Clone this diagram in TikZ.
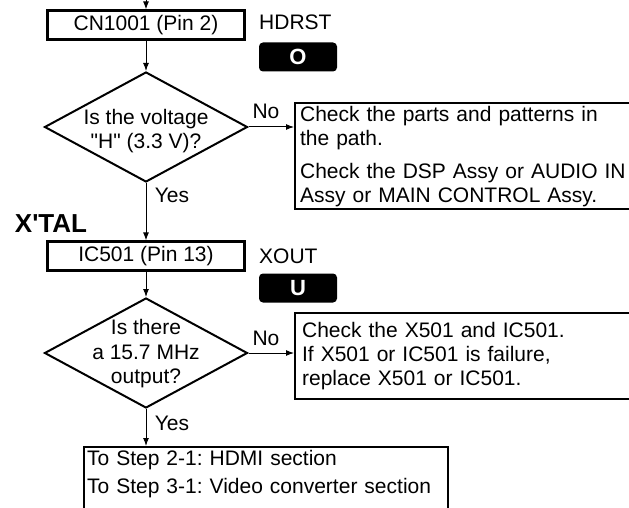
\documentclass[tikz,border=0pt]{standalone}
\usepackage{fontspec}
\setmainfont{Liberation Sans}[Ligatures=TeXOff]
\usetikzlibrary{shapes.geometric,arrows.meta}
\frenchspacing

\begin{document}
\begin{tikzpicture}[x=1pt,y=-1pt,
    font=\fontsize{21}{24}\selectfont,
    box/.style={draw,line width=2.2pt,minimum width=197pt,minimum height=29pt,inner sep=0pt},
    note/.style={draw,line width=2.2pt,anchor=north west,align=left,inner ysep=0pt},
    decision/.style={draw,diamond,line width=2pt,minimum width=203pt,minimum height=110pt,inner sep=0pt},
    badge/.style={fill=black,text=white,rounded corners=4pt,minimum width=78pt,minimum height=29pt,inner sep=0pt,font=\fontsize{22}{24}\selectfont\bfseries},
    flow/.style={line width=1pt,-{Latex[length=8pt,width=6pt]}}]
    \useasboundingbox (0,0) rectangle (629,508);

    \coordinate (top) at (146,-2);
    \node[box] (cn) at (146,25) {CN1001 (Pin 2)};
    \node[anchor=west,inner sep=0pt] (hdrst) at (259,22) {HDRST};
    \node[badge] (o) at (298,57) {O};

    \node[decision] (q1) at (146,127) {};
    \node[align=center,inner sep=0pt] (q1t) at ([yshift=-4pt]q1.center) {Is the voltage\\"H" (3.3 V)?};
    \node[note,minimum width=350pt,minimum height=106pt,text width=340pt,inner xsep=5pt] (chk1) at (294,102)
        {Check the parts and patterns in\\the path.\\[9pt]Check the DSP Assy or AUDIO IN\\Assy or MAIN CONTROL Assy.};
    \node (no1) at (266,111) {No};
    \node (yes1) at (172,195) {Yes};

    \node[font=\fontsize{26}{26}\selectfont\bfseries,inner sep=0pt] (xtal) at (51,224) {X'TAL};
    \node[box] (ic) at (146,256) {IC501 (Pin 13)};
    \node[anchor=west,inner sep=0pt] (xout) at (259,256) {XOUT};
    \node[badge] (u) at (298,288) {U};

    \node[decision] (q2) at (146,353) {};
    \node[align=center,inner sep=0pt,font=\fontsize{21}{24.5}\selectfont] (q2t) at ([yshift=-1pt]q2.center) {Is there\\a 15.7 MHz\\output?};
    \node[note,minimum width=350pt,minimum height=86pt,text width=336pt,inner xsep=7pt] (chk2) at (294,312)
        {Check the X501 and IC501.\\If X501 or IC501 is failure,\\replace X501 or IC501.};
    \node (no2) at (266,338) {No};
    \node (yes2) at (172,423) {Yes};

    \node[note,minimum width=364pt,text width=358pt,inner xsep=3pt,inner ysep=3pt,font=\fontsize{21}{28}\selectfont] (fin) at (83,446)
        {To Step 2-1: HDMI section\\To Step 3-1: Video converter section\\\rule{0pt}{20pt}};

    \draw[flow] (top) -- (cn);
    \draw[flow] (cn) -- (q1);
    \draw[flow] (q1.east) -- (q1.east -| chk1.west);
    \draw[flow] (q1) -- (ic);
    \draw[flow] (ic) -- (q2);
    \draw[flow] (q2.east) -- (q2.east -| chk2.west);
    \draw[flow] (q2) -- (q2 |- fin.north);
\end{tikzpicture}
\end{document}
